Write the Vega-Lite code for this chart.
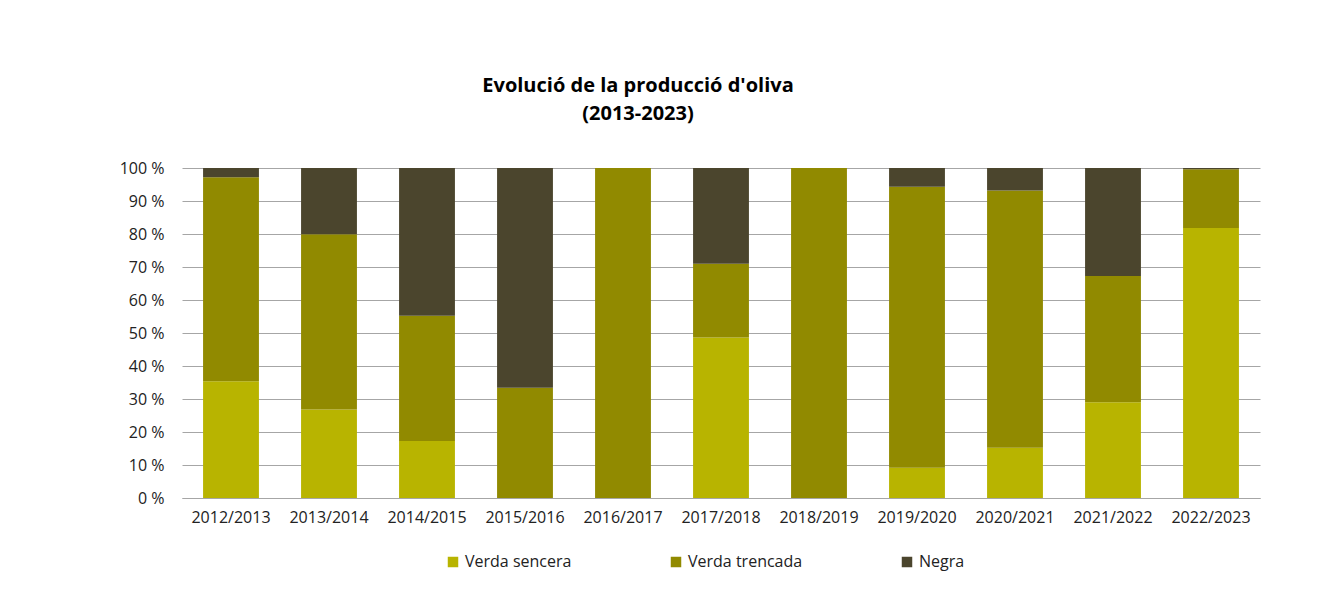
{
  "$schema": "https://vega.github.io/schema/vega-lite/v6.json",
  "autosize": "none",
  "width": 1078,
  "height": 330,
  "padding": {"left": 182, "top": 168, "right": 64, "bottom": 117},
  "background": "white",
  "config": {
    "font": "Open Sans",
    "view": {"stroke": null}
  },
  "title": {
    "text": ["Evolució de la producció d'oliva", "(2013-2023)"],
    "anchor": "middle",
    "frame": "group",
    "dx": -83,
    "offset": 36,
    "fontSize": 20,
    "fontWeight": "bold",
    "color": "#000000",
    "lineHeight": 28,
    "font": "Open Sans"
  },
  "data": {
    "values": [
      {"campanya": "2012/2013", "tipus": "Verda sencera", "ord": 1, "valor": 35.4},
      {"campanya": "2012/2013", "tipus": "Verda trencada", "ord": 2, "valor": 61.8},
      {"campanya": "2012/2013", "tipus": "Negra", "ord": 3, "valor": 2.8},
      {"campanya": "2013/2014", "tipus": "Verda sencera", "ord": 1, "valor": 26.8},
      {"campanya": "2013/2014", "tipus": "Verda trencada", "ord": 2, "valor": 53.1},
      {"campanya": "2013/2014", "tipus": "Negra", "ord": 3, "valor": 20.1},
      {"campanya": "2014/2015", "tipus": "Verda sencera", "ord": 1, "valor": 17.3},
      {"campanya": "2014/2015", "tipus": "Verda trencada", "ord": 2, "valor": 37.9},
      {"campanya": "2014/2015", "tipus": "Negra", "ord": 3, "valor": 44.8},
      {"campanya": "2015/2016", "tipus": "Verda sencera", "ord": 1, "valor": 0},
      {"campanya": "2015/2016", "tipus": "Verda trencada", "ord": 2, "valor": 33.4},
      {"campanya": "2015/2016", "tipus": "Negra", "ord": 3, "valor": 66.6},
      {"campanya": "2016/2017", "tipus": "Verda sencera", "ord": 1, "valor": 0},
      {"campanya": "2016/2017", "tipus": "Verda trencada", "ord": 2, "valor": 100},
      {"campanya": "2016/2017", "tipus": "Negra", "ord": 3, "valor": 0},
      {"campanya": "2017/2018", "tipus": "Verda sencera", "ord": 1, "valor": 48.6},
      {"campanya": "2017/2018", "tipus": "Verda trencada", "ord": 2, "valor": 22.4},
      {"campanya": "2017/2018", "tipus": "Negra", "ord": 3, "valor": 29.0},
      {"campanya": "2018/2019", "tipus": "Verda sencera", "ord": 1, "valor": 0},
      {"campanya": "2018/2019", "tipus": "Verda trencada", "ord": 2, "valor": 100},
      {"campanya": "2018/2019", "tipus": "Negra", "ord": 3, "valor": 0},
      {"campanya": "2019/2020", "tipus": "Verda sencera", "ord": 1, "valor": 9.2},
      {"campanya": "2019/2020", "tipus": "Verda trencada", "ord": 2, "valor": 85.1},
      {"campanya": "2019/2020", "tipus": "Negra", "ord": 3, "valor": 5.7},
      {"campanya": "2020/2021", "tipus": "Verda sencera", "ord": 1, "valor": 15.2},
      {"campanya": "2020/2021", "tipus": "Verda trencada", "ord": 2, "valor": 78.0},
      {"campanya": "2020/2021", "tipus": "Negra", "ord": 3, "valor": 6.8},
      {"campanya": "2021/2022", "tipus": "Verda sencera", "ord": 1, "valor": 29.0},
      {"campanya": "2021/2022", "tipus": "Verda trencada", "ord": 2, "valor": 38.3},
      {"campanya": "2021/2022", "tipus": "Negra", "ord": 3, "valor": 32.7},
      {"campanya": "2022/2023", "tipus": "Verda sencera", "ord": 1, "valor": 81.8},
      {"campanya": "2022/2023", "tipus": "Verda trencada", "ord": 2, "valor": 17.8},
      {"campanya": "2022/2023", "tipus": "Negra", "ord": 3, "valor": 0.4}
    ]
  },
  "mark": {"type": "bar"},
  "encoding": {
    "x": {
      "field": "campanya",
      "type": "nominal",
      "sort": null,
      "title": null,
      "scale": {"paddingInner": 0.43, "paddingOuter": 0.215},
      "axis": {
        "labelAngle": 0,
        "labelFontSize": 16,
        "labelColor": "#222222",
        "labelPadding": 11,
        "ticks": false,
        "domain": true,
        "domainColor": "#a6a6a6",
        "grid": false
      }
    },
    "y": {
      "field": "valor",
      "type": "quantitative",
      "stack": "zero",
      "title": null,
      "scale": {"domain": [0, 100], "nice": false},
      "axis": {
        "values": [0, 10, 20, 30, 40, 50, 60, 70, 80, 90, 100],
        "labelExpr": "datum.value + ' %'",
        "labelFontSize": 16,
        "labelColor": "#222222",
        "labelPadding": 18,
        "ticks": false,
        "domain": false,
        "grid": true,
        "gridColor": "#a6a6a6",
        "gridWidth": 1
      }
    },
    "color": {
      "field": "tipus",
      "type": "nominal",
      "scale": {
        "domain": ["Verda sencera", "Verda trencada", "Negra"],
        "range": ["#B8B400", "#918A00", "#4B452D"]
      },
      "legend": {
        "title": null,
        "orient": "none",
        "direction": "horizontal",
        "legendX": 263,
        "legendY": 386,
        "symbolType": "square",
        "symbolSize": 110,
        "symbolStrokeWidth": 0,
        "labelFontSize": 16,
        "labelColor": "#222222",
        "labelOffset": 4,
        "columnPadding": 96
      }
    },
    "order": {"field": "ord", "type": "quantitative"}
  }
}
